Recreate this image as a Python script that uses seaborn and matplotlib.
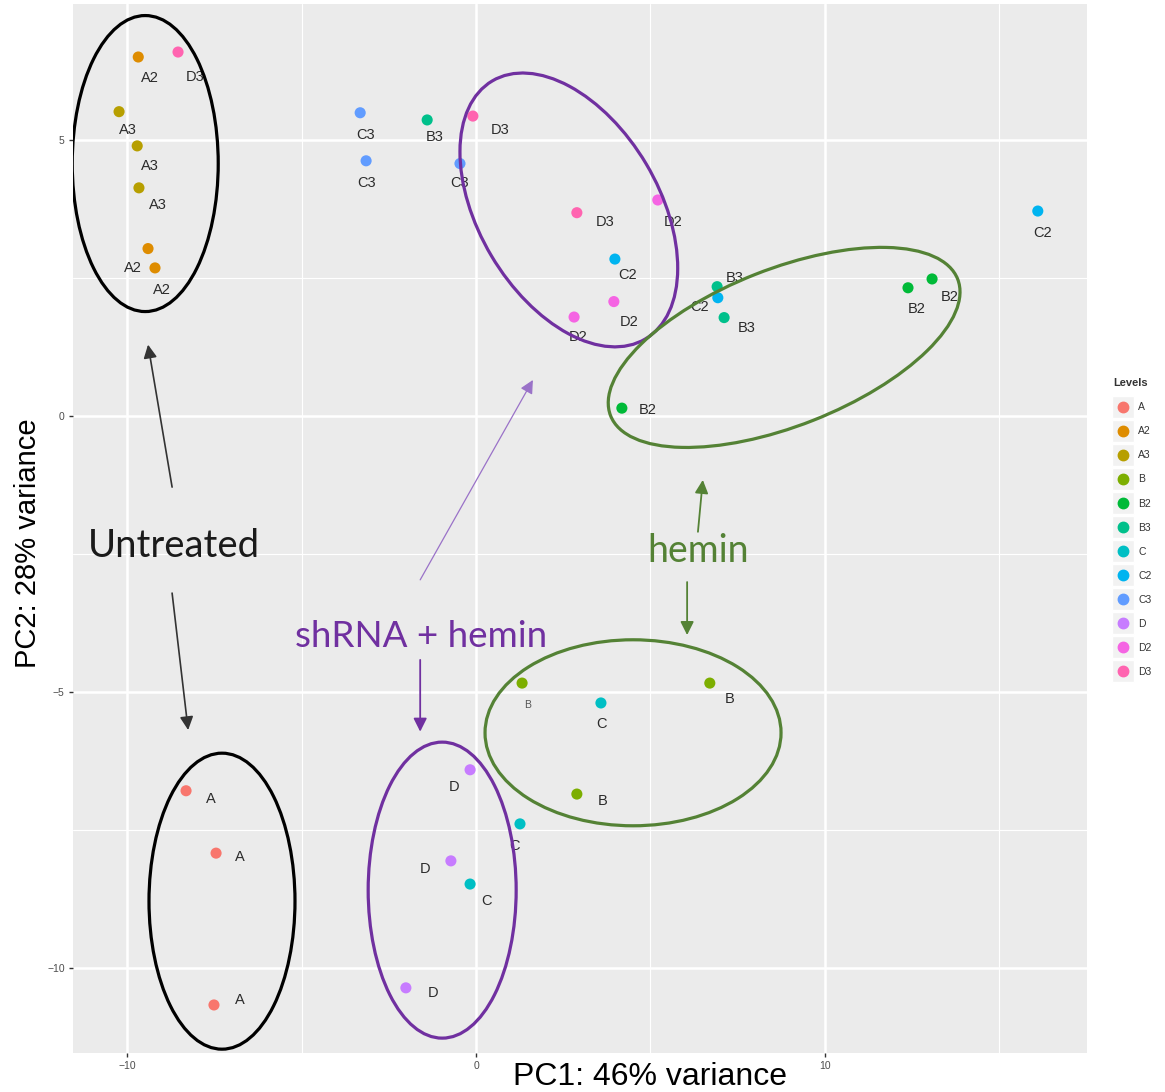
import numpy as np
import pandas as pd
import seaborn as sns
import matplotlib.pyplot as plt
from matplotlib.patches import Ellipse
from matplotlib.lines import Line2D
from matplotlib.transforms import IdentityTransform

levels = ['A', 'A2', 'A3', 'B', 'B2', 'B3', 'C', 'C2', 'C3', 'D', 'D2', 'D3']
colors = ['#F8766D', '#DE8C00', '#B79F00', '#7CAE00', '#00BA38', '#00C08B',
          '#00BFC4', '#00B4F0', '#619CFF', '#C77CFF', '#F564E3', '#FF64B0']

# PCA scores
sample = ['A2', 'D3', 'A3', 'A3', 'A3', 'A2', 'A2',
          'C3', 'B3', 'D3', 'C3', 'C3', 'D2', 'D3', 'C2', 'D2', 'D2',
          'B3', 'C2', 'B3', 'B2', 'B2', 'B2', 'C2',
          'B', 'C', 'B', 'B', 'C',
          'A', 'A', 'A', 'D', 'D', 'C', 'D']
pc1 = [-9.68, -8.54, -10.23, -9.71, -9.66, -9.40, -9.20,
       -3.32, -1.40, -0.09, -3.15, -0.46, 5.21, 2.89, 3.98, 3.95, 2.81,
       6.91, 6.93, 7.11, 12.38, 13.07, 4.18, 16.10,
       1.32, 3.58, 6.70, 2.89, 1.26,
       -8.31, -7.45, -7.51, -0.17, -0.72, -0.17, -2.01]
pc2 = [6.50, 6.59, 5.51, 4.89, 4.13, 3.03, 2.68,
       5.49, 5.36, 5.43, 4.62, 4.57, 3.91, 3.68, 2.84, 2.07, 1.79,
       2.34, 2.14, 1.78, 2.32, 2.48, 0.14, 3.71,
       -4.84, -5.20, -4.84, -6.85, -7.39,
       -6.79, -7.92, -10.67, -6.41, -8.06, -8.48, -10.36]

# where each text label sits relative to its point (pixels, right / up)
label_nudge = [(12, -21), (17, -25), (9, -18), (13, -20), (19, -17), (-15, -19), (7, -22),
               (5, -22), (8, -17), (27, -14), (0, -22), (0, -19), (15, -22), (28, -9),
               (13, -16), (15, -20), (4, -20),
               (18, 9), (-18, -9), (23, -10), (9, -21), (18, -18), (26, -2), (5, -22),
               (5, -22), (1, -21), (20, -16), (26, -7), (-5, -22),
               (25, -8), (24, -4), (26, 5), (-16, -17), (-26, -8), (16, -17), (27, -5)]

df = pd.DataFrame({'PC1': pc1, 'PC2': pc2, 'Levels': sample})

sns.set_theme(style='darkgrid', rc={
    'axes.facecolor': '#EBEBEB', 'grid.color': 'white',
    'xtick.color': '#4D4D4D', 'ytick.color': '#4D4D4D'})
plt.rcParams['font.family'] = ['Liberation Sans', 'DejaVu Sans']

W, H = 1165, 1092
fig = plt.figure(figsize=(W / 100, H / 100), dpi=100)
ax = fig.add_axes([73 / W, 1 - 1053 / H, (1087 - 73) / W, (1053 - 4) / H])

sns.scatterplot(data=df, x='PC1', y='PC2', hue='Levels', hue_order=levels,
                palette=dict(zip(levels, colors)), s=64, linewidth=0, ax=ax, legend=False)

ax.set_xlim(-11.55, 17.51)
ax.set_ylim(-11.54, 7.46)
ax.set_xticks([-10, 0, 10])
ax.set_yticks([-10, -5, 0, 5])
ax.set_xticks([-5, 5, 15], minor=True)
ax.set_yticks([-7.5, -2.5, 2.5], minor=True)
ax.grid(which='major', color='white', lw=1.8)
ax.grid(which='minor', color='white', lw=0.8)
ax.tick_params(which='major', labelsize=7.5, length=3, width=1, color='#333333', pad=3,
               bottom=True, left=True)
ax.tick_params(which='minor', length=0)
for s in ax.spines.values():
    s.set_visible(False)
ax.set_xlabel('')
ax.set_ylabel('')

for x, y, name, (dx, dy) in zip(pc1, pc2, sample, label_nudge):
    small = name == 'B' and dy == -22
    ax.annotate(name, (x, y), xytext=(dx, dy), textcoords='offset pixels',
                ha='center', va='center', fontsize=7.5 if small else 10.5,
                color='#555555' if small else '#2B2B2B')

fig.text(650 / W, 1 - 1077 / H, 'PC1: 46% variance', ha='center', va='center',
         fontsize=23, color='black')
fig.text(28 / W, 1 - 543 / H, 'PC2: 28% variance', ha='center', va='center',
         rotation=90, fontsize=21, color='black')

fig.canvas.draw()

# group rings: centre in data units, full size in pixels, angle in degrees
PURPLE = '#7030A0'
GREEN = '#548235'
rings = [((-9.48, 4.57), 146, 296, 0, 'black'),
         ((-7.28, -8.79), 146, 296, 0, 'black'),
         ((-0.97, -8.59), 148, 296, 0, PURPLE),
         ((2.66, 3.73), 300, 180, -59.3, PURPLE),
         ((8.83, 1.24), 373, 157, 21.5, GREEN),
         ((4.50, -5.74), 296, 186, 0, GREEN)]
for (cx, cy), w, h, ang, c in rings:
    centre = ax.transData.transform((cx, cy))
    ax.add_artist(Ellipse(centre, w, h, angle=ang, fill=False, ec=c, lw=2.3,
                          transform=IdentityTransform(), zorder=3))

arrows = [((-8.71, -1.29), (-9.40, 1.29), '#333333', 1.2),
          ((-8.71, -3.21), (-8.25, -5.69), '#333333', 1.2),
          ((-1.60, -2.97), (1.63, 0.65), '#9A72C8', 0.9),
          ((-1.60, -4.42), (-1.60, -5.72), PURPLE, 1.3),
          ((6.36, -2.10), (6.50, -1.16), GREEN, 1.3),
          ((6.05, -3.01), (6.05, -3.97), GREEN, 1.3)]
for tail, head, c, lw in arrows:
    ax.annotate('', xy=head, xytext=tail,
                arrowprops=dict(arrowstyle='-|>', color=c, lw=lw, mutation_scale=20,
                                shrinkA=0, shrinkB=0))

note_font = ['Lato', 'DejaVu Sans']
ax.text(-8.65, -2.36, 'Untreated', ha='center', va='center', fontsize=27.5,
        color='#1A1A1A', family=note_font)
ax.text(-1.58, -3.99, 'shRNA + hemin', ha='center', va='center', fontsize=26.5,
        color=PURPLE, family=note_font)
ax.text(6.36, -2.45, 'hemin', ha='center', va='center', fontsize=27,
        color=GREEN, family=note_font)

# legend in ggplot style: grey key box behind each dot
handles = [(Line2D([], [], marker='s', ls='', ms=16, mfc='#F2F2F2', mec='white'),
            Line2D([], [], marker='o', ls='', ms=7.5, mfc=c, mec=c)) for c in colors]
leg = fig.legend(handles, levels, title='Levels', loc='upper left',
                 bbox_to_anchor=(1108 / W, 1 - 373 / H), frameon=False,
                 fontsize=7.5, title_fontsize=8, labelspacing=1.35, handlelength=1.8,
                 handletextpad=0.6, borderpad=0, alignment='left')
leg.get_title().set_fontweight('bold')
leg.get_title().set_color('#333333')
for t in leg.get_texts():
    t.set_color('#333333')

fig.savefig('out.png', dpi=100)
